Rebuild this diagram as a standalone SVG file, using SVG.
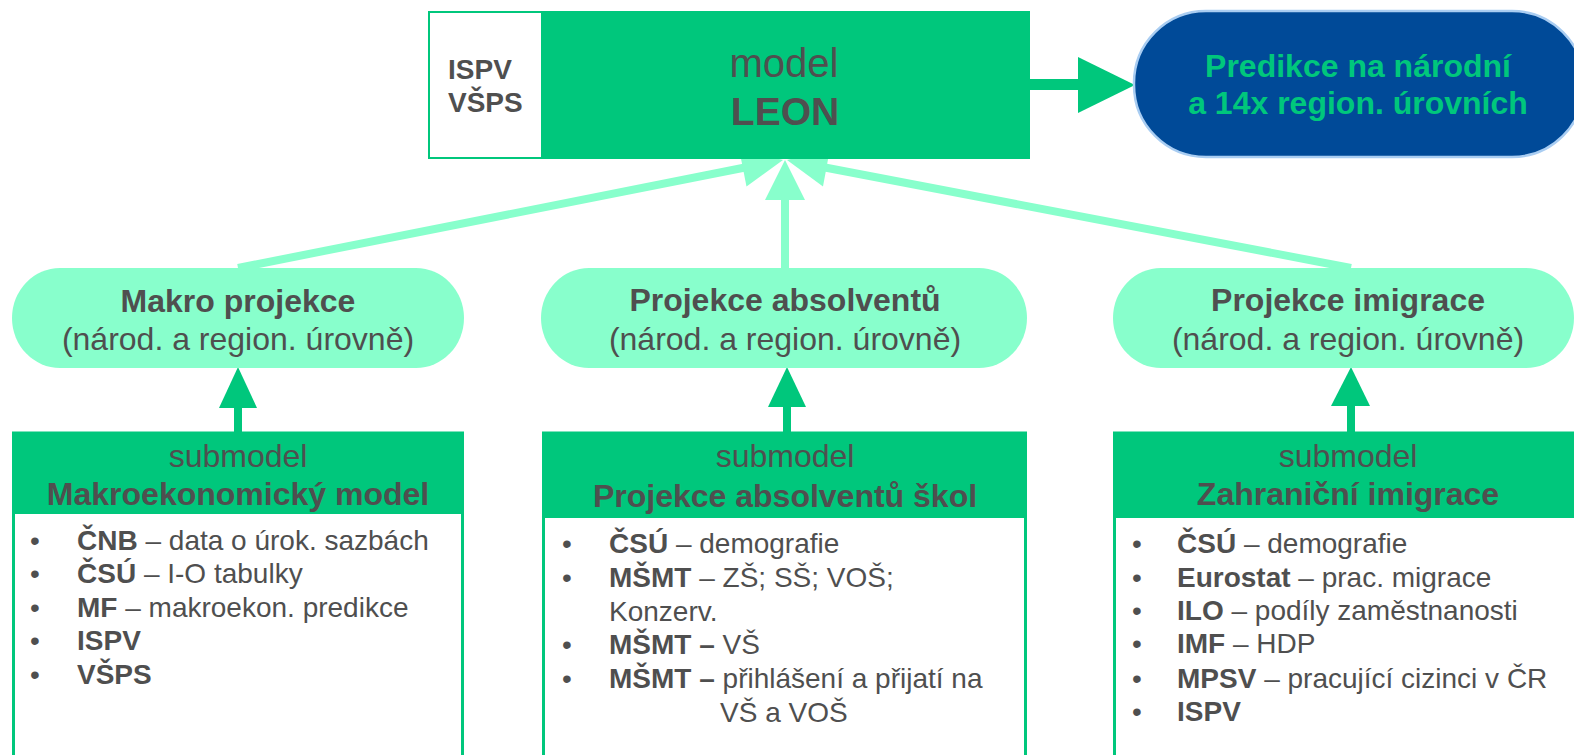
<svg xmlns="http://www.w3.org/2000/svg" width="1574" height="755" viewBox="0 0 1574 755">
<style>
text{font-family:"Liberation Sans",Arial,sans-serif;fill:#4F4F4F}
.c{text-anchor:middle}
.b{font-weight:bold}
.pill{fill:#88FFCC}
.hdr{fill:#00C77C}
.body{fill:#FFFFFF;stroke:#00C77C;stroke-width:3}
.pt{font-size:32px}
.st{font-size:32px}
.li{font-size:28px}
.lc{fill:#88FFCC}
.gc{fill:#00C77C}
</style>
<rect width="1574" height="755" fill="#FFFFFF"/>

<g id="connectors">
  <!-- light green arrows into model LEON -->
  <line x1="238" y1="268" x2="745" y2="167.5" stroke="#88FFCC" stroke-width="8"/>
  <polygon class="lc" points="783,160 739,148.5 746.5,186.5"/>
  <rect class="lc" x="781" y="198" width="8" height="72"/>
  <polygon class="lc" points="785,160 765,200 805,200"/>
  <line x1="1351" y1="268" x2="825" y2="167.5" stroke="#88FFCC" stroke-width="8"/>
  <polygon class="lc" points="787,160 830,148.5 823,186.5"/>
  <!-- output arrow -->
  <rect class="gc" x="1028" y="79" width="52" height="11"/>
  <polygon class="gc" points="1078,57 1135,85 1078,113"/>
  <!-- submodel arrows -->
  <rect class="gc" x="234" y="404" width="8" height="30"/>
  <polygon class="gc" points="238,367 219,408 257,408"/>
  <rect class="gc" x="783" y="404" width="8" height="30"/>
  <polygon class="gc" points="787,367 768,407 806,407"/>
  <rect class="gc" x="1347" y="404" width="8" height="30"/>
  <polygon class="gc" points="1351,367 1331,406 1370,406"/>
</g>

<g id="model-leon">
  <rect x="429" y="12" width="600" height="146" fill="#00C77C" stroke="#00C77C" stroke-width="2"/>
  <rect x="430" y="13" width="111" height="144" fill="#FFFFFF"/>
  <text class="b" x="448" y="79" font-size="28">ISPV</text>
  <text class="b" x="448" y="112" font-size="28">VŠPS</text>
  <text class="c" x="784" y="77" font-size="40">model</text>
  <text class="c b" x="785" y="125" font-size="39">LEON</text>
</g>

<g id="predikce">
  <rect x="1134" y="11" width="450" height="146" rx="72" ry="72" fill="#004A98" stroke="#A9CDF2" stroke-width="2.5"/>
  <text class="c b" x="1358" y="77" font-size="32" style="fill:#00C77C">Predikce na národní</text>
  <text class="c b" x="1358" y="114" font-size="32" style="fill:#00C77C">a 14x region. úrovních</text>
</g>

<g id="makro-projekce">
  <rect class="pill" x="12" y="268" width="452" height="100" rx="48" ry="50"/>
  <text class="c b pt" x="238" y="312">Makro projekce</text>
  <text class="c pt" x="238" y="350">(národ. a region. úrovně)</text>
</g>

<g id="projekce-absolventu">
  <rect class="pill" x="541" y="268" width="486" height="100" rx="48" ry="50"/>
  <text class="c b pt" x="785" y="311">Projekce absolventů</text>
  <text class="c pt" x="785" y="350">(národ. a region. úrovně)</text>
</g>

<g id="projekce-imigrace">
  <rect class="pill" x="1113" y="268" width="461" height="100" rx="48" ry="50"/>
  <text class="c b pt" x="1348" y="311">Projekce imigrace</text>
  <text class="c pt" x="1348" y="350">(národ. a region. úrovně)</text>
</g>

<g id="submodel-makro">
  <rect class="body" x="13.5" y="433" width="449" height="340"/>
  <rect class="hdr" x="12" y="432" width="452" height="82"/>
  <text class="c st" x="238" y="467">submodel</text>
  <text class="c b st" x="238" y="505">Makroekonomický model</text>
  <text class="li" x="30" y="550">•</text>
  <text class="li" x="77" y="550"><tspan class="b">ČNB</tspan> – data o úrok. sazbách</text>
  <text class="li" x="30" y="583">•</text>
  <text class="li" x="77" y="583"><tspan class="b">ČSÚ</tspan> – I-O tabulky</text>
  <text class="li" x="30" y="617">•</text>
  <text class="li" x="77" y="617"><tspan class="b">MF</tspan> – makroekon. predikce</text>
  <text class="li" x="30" y="650">•</text>
  <text class="li b" x="77" y="650">ISPV</text>
  <text class="li" x="30" y="684">•</text>
  <text class="li b" x="77" y="684">VŠPS</text>
</g>

<g id="submodel-absolventi">
  <rect class="body" x="543.5" y="433" width="482" height="340"/>
  <rect class="hdr" x="542" y="432" width="485" height="86"/>
  <text class="c st" x="785" y="467">submodel</text>
  <text class="c b st" x="785" y="507">Projekce absolventů škol</text>
  <text class="li" x="562" y="553">•</text>
  <text class="li" x="609" y="553"><tspan class="b">ČSÚ</tspan> – demografie</text>
  <text class="li" x="562" y="587">•</text>
  <text class="li" x="609" y="587"><tspan class="b">MŠMT</tspan> – ZŠ; SŠ; VOŠ;</text>
  <text class="li" x="609" y="621">Konzerv.</text>
  <text class="li" x="562" y="654">•</text>
  <text class="li" x="609" y="654"><tspan class="b">MŠMT –</tspan> VŠ</text>
  <text class="li" x="562" y="688">•</text>
  <text class="li" x="609" y="688"><tspan class="b">MŠMT –</tspan> přihlášení a přijatí na</text>
  <text class="li" x="720" y="722">VŠ a VOŠ</text>
</g>

<g id="submodel-imigrace">
  <rect class="body" x="1114.5" y="433" width="470" height="340"/>
  <rect class="hdr" x="1113" y="432" width="473" height="86"/>
  <text class="c st" x="1348" y="467">submodel</text>
  <text class="c b st" x="1348" y="505">Zahraniční imigrace</text>
  <text class="li" x="1132" y="553">•</text>
  <text class="li" x="1177" y="553"><tspan class="b">ČSÚ</tspan> – demografie</text>
  <text class="li" x="1132" y="587">•</text>
  <text class="li" x="1177" y="587"><tspan class="b">Eurostat</tspan> – prac. migrace</text>
  <text class="li" x="1132" y="620">•</text>
  <text class="li" x="1177" y="620"><tspan class="b">ILO</tspan> – podíly zaměstnanosti</text>
  <text class="li" x="1132" y="653">•</text>
  <text class="li" x="1177" y="653"><tspan class="b">IMF</tspan> – HDP</text>
  <text class="li" x="1132" y="688">•</text>
  <text class="li" x="1177" y="688"><tspan class="b">MPSV</tspan> – pracující cizinci v ČR</text>
  <text class="li" x="1132" y="721">•</text>
  <text class="li b" x="1177" y="721">ISPV</text>
</g>
</svg>
